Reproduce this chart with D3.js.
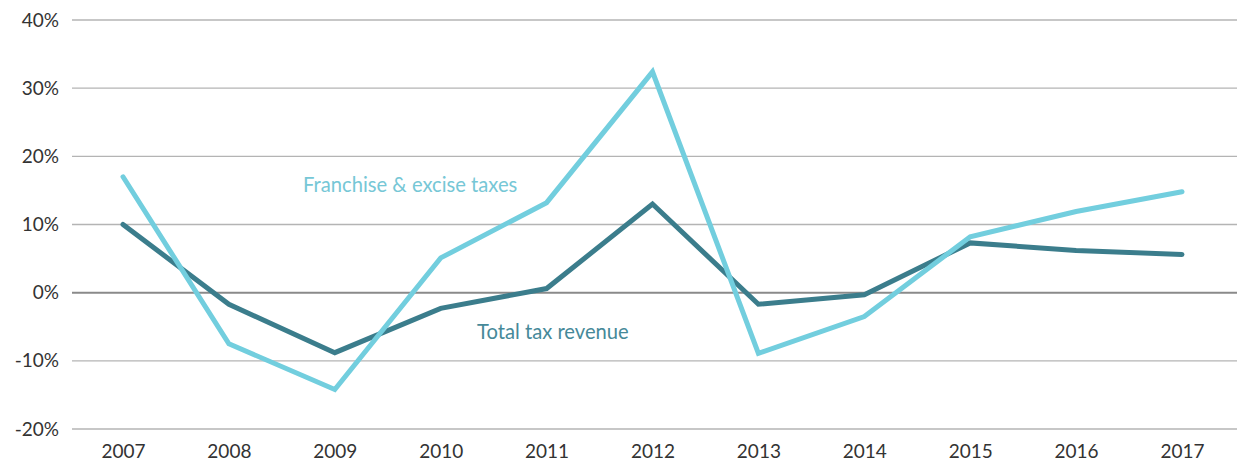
<!DOCTYPE html>
<html><head><meta charset="utf-8">
<script src="https://cdn.jsdelivr.net/npm/d3@7"></script>
<style>body{margin:0;background:#fff}svg{display:block}text{font-family:Lato,"Open Sans",sans-serif}</style>
</head><body><svg id="c" width="1239" height="466"></svg>
<script>
const years = ["2007","2008","2009","2010","2011","2012","2013","2014","2015","2016","2017"];
const franchise = [17.0,-7.5,-14.2,5.1,13.2,32.4,-8.9,-3.5,8.2,11.9,14.8];
const total = [10.0,-1.7,-8.8,-2.3,0.6,13.0,-1.7,-0.3,7.3,6.2,5.6];
const yTicks = [-20,-10,0,10,20,30,40];

const svg = d3.select("#c");
const x = d3.scalePoint().domain(years).range([123,1182]);
const y = d3.scaleLinear().domain([-20,40]).range([429,20]);
const gx0 = 72, gx1 = 1237;

const grid = svg.append("g");
grid.selectAll("line").data(yTicks).join("line")
  .attr("x1",gx0).attr("x2",gx1)
  .attr("y1",d=>y(d)).attr("y2",d=>y(d))
  .attr("stroke",d=>d===0?"#8a8a8a":"#b4b4b4")
  .attr("stroke-width",d=>d===0?2:1.3);

const yAxis = d3.axisLeft(y).tickValues(yTicks).tickFormat(d=>d+"%").tickSize(0).tickPadding(0);
const ga = svg.append("g").attr("transform","translate(59,0)").call(yAxis);
ga.select(".domain").remove();
ga.selectAll("text").attr("font-size",19).attr("fill","#333").attr("font-family","Lato,sans-serif");

const xAxis = d3.axisBottom(x).tickSize(0).tickPadding(0);
const gb = svg.append("g").attr("transform","translate(0,444)").call(xAxis);
gb.select(".domain").remove();
gb.selectAll("text").attr("font-size",19).attr("fill","#333").attr("dy","0.71em").attr("font-family","Lato,sans-serif");

const line = d3.line().x((d,i)=>x(years[i])).y(d=>y(d));
svg.append("path").datum(total).attr("d",line).attr("fill","none")
  .attr("stroke","#3b7d8c").attr("stroke-width",5).attr("stroke-linecap","round").attr("stroke-linejoin","miter");
svg.append("path").datum(franchise).attr("d",line).attr("fill","none")
  .attr("stroke","#72cede").attr("stroke-width",5).attr("stroke-linecap","round").attr("stroke-linejoin","miter");

svg.append("text").attr("x",303).attr("y",192).attr("font-size",20.2).attr("fill","#76c7d6").text("Franchise & excise taxes");
svg.append("text").attr("x",477).attr("y",339).attr("font-size",20.2).attr("fill","#468999").text("Total tax revenue");
</script></body></html>
